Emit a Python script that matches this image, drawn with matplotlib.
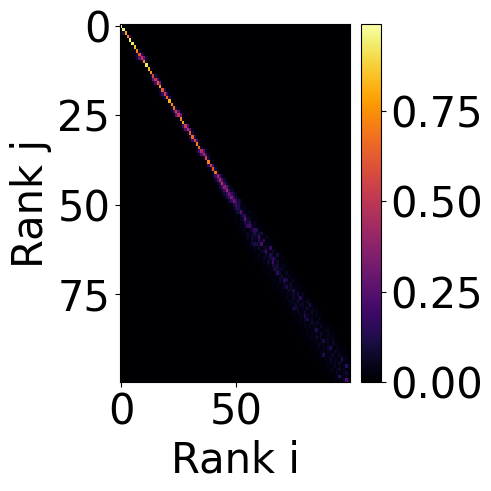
import numpy as np
import matplotlib
matplotlib.use('Agg')
import matplotlib.pyplot as plt

# first 50 ranks: values, one list per band around the diagonal
diag = [.99, .95, .80, .72, .94, .92, .85, .72, .60, .50,
        .72, .93, .82, .74, .55, .50, .62, .78, .62, .55,
        .66, .82, .75, .68, .52, .50, .72, .80, .52, .48,
        .62, .66, .55, .70, .66, .45, .42, .55, .72, .52,
        .62, .68, .40, .40, .48, .36, .42, .30, .34, .30]
up1 = [.00, .01, .02, .18, .02, .01, .02, .08, .18, .30,
       .08, .01, .03, .04, .10, .25, .30, .05, .12, .20,
       .15, .03, .06, .10, .26, .28, .05, .03, .22, .26,
       .10, .12, .22, .06, .08, .25, .22, .10, .05, .22,
       .10, .06, .22, .25, .18, .26, .18, .20, .16, .20]
low1 = [.00, .01, .12, .01, .01, .01, .02, .05, .10, .28,
        .10, .01, .02, .03, .08, .28, .22, .04, .08, .18,
        .12, .02, .05, .08, .22, .26, .04, .04, .20, .24,
        .08, .10, .18, .05, .06, .22, .24, .08, .04, .18,
        .08, .05, .20, .22, .16, .20, .20, .18, .18, .16]
up2 = [.00, .00, .01, .01, .00, .00, .00, .02, .06, .08,
       .02, .00, .00, .01, .03, .04, .04, .01, .03, .05,
       .02, .00, .01, .03, .05, .04, .01, .00, .03, .05,
       .02, .03, .04, .01, .02, .05, .05, .02, .01, .04,
       .03, .02, .06, .08, .06, .08, .08, .10, .08, .10]
low2 = [.00, .00, .00, .01, .00, .00, .00, .01, .04, .10,
        .03, .00, .00, .01, .02, .05, .04, .01, .02, .06,
        .03, .00, .01, .02, .06, .05, .01, .00, .02, .06,
        .03, .02, .05, .01, .01, .06, .06, .02, .01, .04,
        .02, .02, .05, .07, .06, .08, .07, .09, .10, .08]
up3 = [.00, .00, .00, .00, .00, .00, .00, .01, .02, .03,
       .01, .00, .00, .00, .01, .01, .01, .00, .01, .01,
       .01, .00, .00, .01, .02, .01, .00, .00, .01, .02,
       .01, .01, .01, .00, .01, .02, .02, .01, .00, .01,
       .01, .01, .02, .03, .03, .04, .05, .05, .04, .06]
low3 = [.00, .00, .00, .00, .00, .00, .00, .00, .01, .03,
        .01, .00, .00, .00, .01, .01, .01, .00, .01, .01,
        .01, .00, .00, .01, .01, .01, .00, .00, .01, .02,
        .01, .01, .01, .00, .00, .02, .02, .01, .00, .01,
        .01, .01, .02, .02, .03, .03, .04, .05, .05, .04]

# ranks 50-99, in percent, columns are col-row = -10 .. +8
tail_first_row = 50
tail_first_offset = -10
tail = [
    [0, 0, 0, 0, 0, 0, 1, 3, 2, 9, 20, 12, 5, 2, 4, 1, 0, 0, 0],
    [0, 0, 0, 0, 0, 1, 0, 2, 5, 14, 12, 6, 3, 6, 2, 1, 0, 0, 0],
    [0, 0, 0, 0, 1, 0, 2, 1, 6, 10, 24, 8, 2, 3, 5, 1, 1, 0, 0],
    [0, 0, 0, 0, 0, 1, 2, 4, 2, 8, 13, 16, 4, 1, 3, 2, 0, 0, 0],
    [0, 0, 0, 1, 0, 1, 3, 1, 5, 7, 26, 9, 6, 2, 1, 3, 1, 0, 0],
    [0, 0, 0, 0, 1, 2, 1, 4, 3, 12, 9, 15, 3, 5, 2, 1, 0, 0, 0],
    [0, 0, 0, 0, 1, 1, 4, 2, 7, 18, 22, 8, 5, 1, 3, 2, 1, 0, 0],
    [0, 0, 1, 0, 2, 1, 3, 5, 2, 6, 9, 17, 14, 4, 2, 1, 2, 0, 0],
    [0, 0, 0, 1, 1, 3, 2, 6, 4, 5, 12, 8, 7, 10, 3, 1, 1, 0, 0],
    [0, 0, 1, 0, 2, 1, 6, 3, 9, 7, 6, 21, 4, 2, 5, 3, 0, 1, 0],
    [0, 0, 0, 1, 1, 4, 2, 9, 5, 3, 14, 7, 16, 3, 1, 2, 1, 0, 0],
    [0, 1, 0, 2, 1, 3, 7, 12, 10, 6, 22, 2, 4, 5, 3, 1, 2, 0, 0],
    [0, 0, 1, 1, 3, 2, 5, 4, 8, 3, 6, 9, 3, 18, 2, 4, 1, 0, 0],
    [0, 0, 0, 2, 1, 4, 1, 3, 6, 9, 19, 5, 2, 7, 3, 1, 2, 1, 0],
    [0, 1, 0, 1, 2, 1, 5, 2, 4, 7, 5, 13, 6, 2, 10, 3, 1, 0, 0],
    [0, 0, 1, 2, 1, 3, 2, 7, 3, 5, 9, 16, 11, 3, 2, 4, 1, 1, 0],
    [0, 0, 1, 0, 2, 1, 4, 2, 9, 6, 20, 4, 7, 2, 3, 1, 2, 0, 0],
    [0, 1, 0, 1, 1, 3, 1, 5, 3, 10, 7, 9, 3, 4, 5, 2, 1, 0, 0],
    [0, 0, 1, 1, 2, 1, 2, 4, 6, 12, 8, 5, 6, 3, 1, 2, 1, 1, 0],
    [0, 0, 0, 2, 1, 2, 3, 1, 5, 15, 9, 3, 4, 7, 2, 3, 1, 0, 0],
    [0, 1, 0, 1, 3, 1, 2, 3, 4, 6, 8, 4, 3, 6, 4, 2, 1, 1, 0],
    [0, 0, 1, 1, 1, 2, 4, 2, 7, 5, 14, 10, 2, 3, 5, 1, 2, 0, 0],
    [0, 0, 0, 1, 2, 1, 3, 5, 2, 7, 4, 5, 8, 2, 3, 4, 1, 1, 0],
    [0, 1, 0, 2, 1, 3, 1, 4, 6, 13, 5, 7, 3, 4, 2, 3, 2, 0, 0],
    [0, 0, 1, 1, 2, 1, 3, 2, 4, 7, 6, 10, 5, 3, 2, 1, 3, 1, 0],
    [0, 0, 1, 0, 1, 3, 2, 4, 3, 5, 7, 4, 9, 3, 6, 2, 1, 0, 1],
    [0, 1, 0, 1, 2, 2, 5, 3, 2, 7, 4, 6, 14, 5, 2, 3, 2, 1, 0],
    [0, 0, 1, 1, 3, 1, 4, 6, 5, 3, 8, 3, 5, 4, 7, 1, 2, 1, 0],
    [0, 0, 0, 2, 1, 3, 2, 5, 8, 4, 6, 7, 2, 4, 12, 3, 1, 2, 0],
    [0, 1, 1, 0, 2, 1, 11, 9, 6, 3, 5, 4, 7, 2, 3, 4, 2, 1, 0],
    [0, 0, 1, 2, 1, 4, 2, 6, 3, 5, 7, 3, 4, 8, 2, 5, 1, 1, 0],
    [0, 1, 0, 1, 2, 3, 1, 5, 4, 13, 6, 2, 5, 3, 4, 2, 3, 0, 1],
    [0, 0, 1, 1, 3, 2, 4, 3, 7, 11, 4, 6, 3, 2, 5, 1, 2, 1, 0],
    [1, 0, 2, 1, 1, 4, 2, 5, 3, 4, 8, 3, 6, 4, 2, 3, 1, 2, 0],
    [0, 1, 0, 2, 1, 2, 5, 3, 6, 2, 5, 4, 3, 7, 3, 2, 4, 1, 1],
    [0, 0, 1, 1, 3, 1, 3, 4, 2, 6, 12, 5, 2, 4, 3, 5, 1, 2, 0],
    [1, 0, 1, 2, 1, 4, 2, 6, 3, 5, 4, 7, 3, 2, 6, 2, 3, 1, 1],
    [0, 1, 0, 1, 2, 3, 5, 2, 7, 3, 6, 2, 4, 5, 3, 4, 1, 2, 0],
    [0, 0, 2, 1, 1, 2, 3, 4, 2, 5, 11, 4, 6, 2, 7, 3, 2, 1, 1],
    [1, 0, 1, 1, 3, 1, 2, 6, 3, 4, 2, 5, 3, 6, 4, 5, 1, 2, 0],
    [0, 1, 1, 2, 1, 3, 4, 2, 5, 3, 6, 13, 4, 2, 5, 3, 2, 1, 1],
    [0, 0, 1, 1, 2, 2, 3, 5, 2, 6, 4, 3, 7, 5, 3, 2, 4, 1, 0],
    [1, 0, 1, 2, 1, 3, 12, 4, 3, 5, 7, 3, 2, 6, 4, 3, 2, 2, 1],
    [0, 1, 0, 1, 3, 1, 4, 2, 6, 3, 5, 4, 2, 14, 3, 5, 2, 1, 0],
    [0, 0, 1, 2, 1, 2, 3, 5, 4, 6, 3, 7, 5, 2, 4, 3, 1, 2, 1],
    [1, 0, 1, 1, 2, 4, 2, 3, 6, 2, 5, 3, 4, 15, 6, 3, 2, 1, 0],
    [0, 1, 1, 2, 1, 3, 5, 2, 4, 7, 3, 6, 2, 5, 4, 2, 3, 1, 1],
    [0, 0, 1, 1, 3, 2, 3, 6, 2, 4, 5, 8, 3, 6, 2, 4, 1, 2, 0],
    [1, 0, 2, 1, 1, 3, 2, 16, 5, 3, 6, 2, 7, 4, 3, 5, 2, 1, 1],
    [0, 1, 0, 1, 2, 2, 4, 3, 6, 22, 7, 3, 5, 2, 4, 3, 2, 1, 0],
]

bands = {0: diag, 1: up1, -1: low1, 2: up2, -2: low2, 3: up3, -3: low3}

matrix = np.zeros((100, 100))
for offset, vals in bands.items():
    for i in range(len(vals)):
        j = i + offset
        if 0 <= j < 100:
            matrix[i, j] = vals[i]
for k, row in enumerate(tail):
    i = tail_first_row + k
    for m, v in enumerate(row):
        j = i + tail_first_offset + m
        if 0 <= j < 100:
            matrix[i, j] = v / 100

fig = plt.figure(figsize=(4.91, 4.91), dpi=100)
ax = fig.add_axes([120 / 491, 1 - 382 / 491, 230 / 491, 358 / 491])
im = ax.imshow(matrix, cmap='inferno', aspect='auto', interpolation='nearest', vmin=0, vmax=.99)
ax.set_xticks([0, 50])
ax.set_yticks([0, 25, 50, 75])
ax.tick_params(labelsize=30)
ax.set_xlabel('Rank i', fontsize=30)
ax.set_ylabel('Rank j', fontsize=30)

cax = fig.add_axes([361 / 491, 1 - 382 / 491, 20 / 491, 358 / 491])
cb = fig.colorbar(im, cax=cax)
cb.set_ticks([0, .25, .5, .75], labels=['0.00', '0.25', '0.50', '0.75'])
cb.ax.tick_params(labelsize=30)

fig.savefig('out.png', dpi=100)
